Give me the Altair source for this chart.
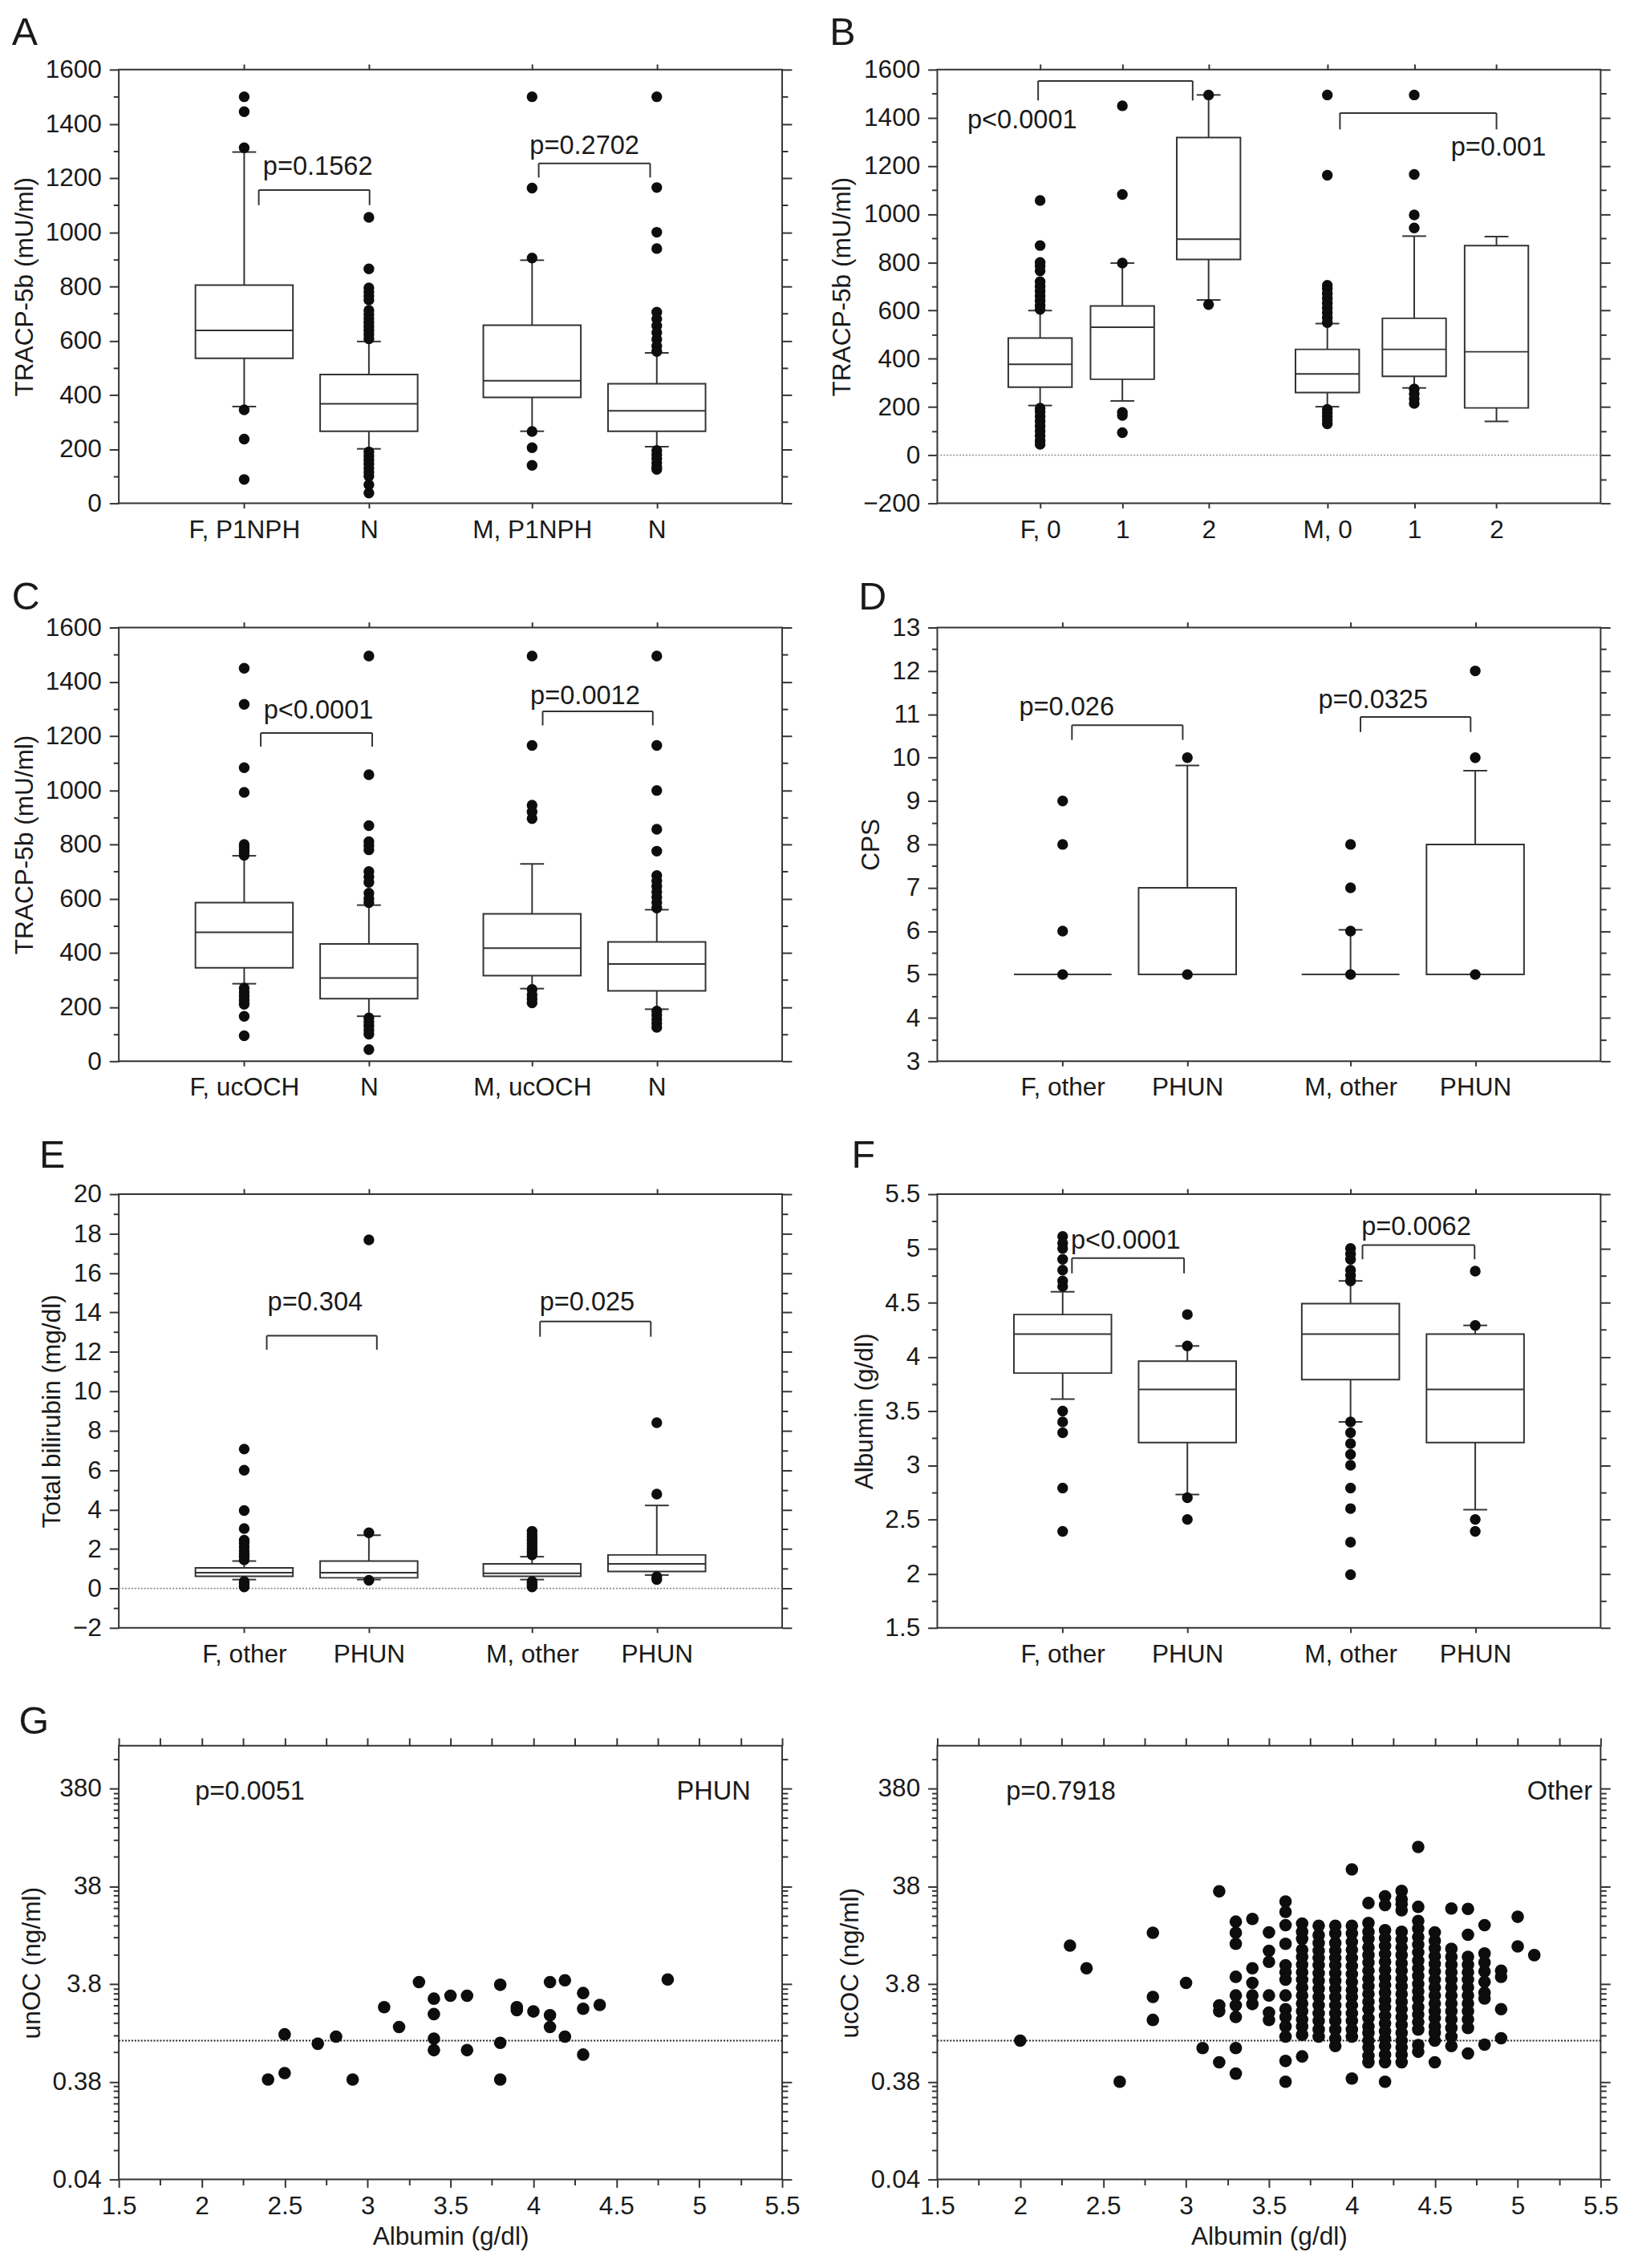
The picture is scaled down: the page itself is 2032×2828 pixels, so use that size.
import altair as alt
import pandas as pd

FONT = "Liberation Sans"
INK = "#333333"
TXT = "#1a1a1a"
DOT = "#0d0d0d"

# ---------------- Panel A ----------------
A_labels = ["F, P1NPH", "N", "M, P1NPH", "N"]
A_q1 = [535, 266, 391, 266]
A_med = [638, 367, 452, 341]
A_q3 = [805, 475, 657, 441]
A_lo = [357, 201, 266, 209]
A_hi = [1296, 597, 897, 555]
A_out = [
    [1500, 1445, 1312, 345, 237, 88],
    [1055, 865, 795, 780, 765, 750, 712, 697, 682, 667, 652, 637, 622, 607,
     190, 175, 160, 145, 130, 115, 100, 68, 38],
    [1500, 1163, 905, 265, 205, 140],
    [1500, 1165, 1000, 940, 705, 680, 655, 630, 605, 580, 560,
     195, 180, 165, 150, 135, 125],
]
A_p = ["p=0.1562", "p=0.2702"]
A_brx = [(21.1, 37.8), (63.3, 80.1)]
A_bry = [(1156, 1100), (1254, 1202)]
A_ptx = [30.0, 70.2]
A_pty = [1212, 1290]

# ---------------- Panel B ----------------
B_labels = ["F, 0", "1", "2", "M, 0", "1", "2"]
B_q1 = [282, 315, 812, 260, 327, 196]
B_med = [377, 531, 896, 337, 439, 429]
B_q3 = [486, 619, 1318, 439, 568, 870]
B_lo = [206, 225, 644, 201, 279, 140]
B_hi = [600, 797, 1495, 546, 909, 907]
B_out = [
    [1057, 870, 800, 785, 765, 720, 700, 680, 660, 640, 620, 605,
     195, 180, 160, 140, 120, 100, 80, 60, 45],
    [1450, 1082, 797, 177, 165, 93],
    [1495, 625],
    [1495, 1162, 705, 690, 670, 650, 630, 610, 590, 570, 550,
     190, 175, 160, 145, 130],
    [1495, 1165, 997, 943, 275, 255, 235, 215],
    [],
]
B_p = ["p<0.0001", "p=0.001"]
B_brx = [(15.2, 38.5), (60.7, 84.3)]
B_bry = [(1553, 1472), (1420, 1352)]
B_ptx = [12.8, 84.6]
B_pty = [1358, 1242]

# ---------------- Panel C ----------------
C_labels = ["F, ucOCH", "N", "M, ucOCH", "N"]
C_q1 = [345, 231, 316, 260]
C_med = [476, 307, 417, 359]
C_q3 = [585, 433, 544, 440]
C_lo = [286, 166, 268, 192]
C_hi = [758, 576, 728, 559]
C_out = [
    [1450, 1317, 1083, 992, 800, 790, 780, 770, 760,
     270, 255, 240, 225, 210, 166, 94],
    [1495, 1057, 869, 810, 795, 780, 700, 680, 660, 620, 600, 585,
     160, 145, 130, 115, 100, 43],
    [1495, 1165, 945, 920, 895, 265, 245, 230, 215],
    [1495, 1165, 999, 856, 775, 685, 665, 645, 625, 605, 585, 565,
     185, 170, 155, 140, 125],
]
C_p = ["p<0.0001", "p=0.0012"]
C_brx = [(21.4, 38.2), (63.9, 80.5)]
C_bry = [(1211, 1161), (1291, 1239)]
C_ptx = [30.1, 70.3]
C_pty = [1265, 1317]

# ---------------- Panel D ----------------
D_labels = ["F, other", "PHUN", "M, other", "PHUN"]
D_q1 = [5, 5, 5, 5]
D_med = [5, 5, 5, 5]
D_q3 = [5, 7, 5, 8]
D_lo = [5, 5, 5, 5]
D_hi = [5, 9.82, 6.03, 9.7]
D_out = [[9, 8, 6, 5], [10, 5], [8, 7, 6, 5], [12, 10, 5]]
D_p = ["p=0.026", "p=0.0325"]
D_brx = [(20.3, 37.0), (63.8, 80.4)]
D_bry = [(10.75, 10.41), (10.94, 10.59)]
D_ptx = [19.5, 65.7]
D_pty = [10.98, 11.14]

# ---------------- Panel E ----------------
E_labels = ["F, other", "PHUN", "M, other", "PHUN"]
E_q1 = [0.62, 0.54, 0.62, 0.86]
E_med = [0.80, 0.80, 0.77, 1.25]
E_q3 = [1.04, 1.39, 1.25, 1.70]
E_lo = [0.45, 0.45, 0.45, 0.68]
E_hi = [1.39, 2.70, 1.61, 4.21]
E_out = [
    [7.07, 6.0, 3.95, 3.04, 2.45, 2.3, 2.1, 1.9, 1.75, 1.6, 1.45,
     0.35, 0.25, 0.15, 0.08],
    [17.68, 2.82, 0.41],
    [2.9, 2.75, 2.6, 2.45, 2.3, 2.15, 2.0, 1.85, 1.7, 0.35, 0.25, 0.15, 0.08],
    [8.41, 4.79, 0.6, 0.45],
]
E_p = ["p=0.304", "p=0.025"]
E_brx = [(22.3, 38.9), (63.5, 80.2)]
E_bry = [(12.82, 12.11), (13.54, 12.77)]
E_ptx = [29.6, 70.6]
E_pty = [14.1, 14.1]

# ---------------- Panel F ----------------
F_labels = ["F, other", "PHUN", "M, other", "PHUN"]
F_q1 = [3.85, 3.21, 3.79, 3.21]
F_med = [4.21, 3.70, 4.21, 3.70]
F_q3 = [4.39, 3.96, 4.49, 4.21]
F_lo = [3.61, 2.73, 3.40, 2.59]
F_hi = [4.60, 4.10, 4.70, 4.29]
F_out = [
    [5.11, 5.05, 5.0, 4.9, 4.8, 4.7, 4.65, 3.5, 3.4, 3.3, 2.79, 2.39],
    [4.39, 4.1, 2.7, 2.5],
    [5.0, 4.95, 4.9, 4.8, 4.75, 4.7, 3.4, 3.3, 3.2, 3.1, 3.0, 2.79, 2.6, 2.29, 1.99],
    [4.79, 4.29, 2.5, 2.39],
]
F_p = ["p<0.0001", "p=0.0062"]
F_brx = [(20.3, 37.2), (64.1, 81.0)]
F_bry = [(4.91, 4.77), (5.03, 4.90)]
F_ptx = [28.4, 72.2]
F_pty = [5.0, 5.12]

# ---------------- Panel G (left, PHUN) ----------------
GL_alb = [2.40, 2.50, 2.50, 2.70, 2.81, 2.91, 3.10, 3.19, 3.31, 3.40,
          3.40, 3.40, 3.40, 3.50, 3.60, 3.60, 3.80, 3.80, 3.80, 3.90,
          3.90, 4.00, 4.10, 4.10, 4.10, 4.19, 4.19, 4.30, 4.30, 4.30,
          4.40, 4.81]
GL_oc = [0.40, 1.16, 0.465, 0.93, 1.10, 0.40, 2.20, 1.38, 3.97, 2.69,
         1.87, 1.05, 0.80, 2.88, 2.88, 0.80, 3.73, 0.95, 0.40, 2.20,
         2.05, 1.99, 3.97, 1.82, 1.38, 4.15, 1.10, 3.07, 2.12, 0.72,
         2.32, 4.22]

# ---------------- Panel G (right, Other) ----------------
GR_alb = [2.0, 2.3, 2.4, 2.6, 2.8, 3.0, 3.1, 3.2, 3.3, 3.4, 3.5, 3.6, 3.7,
          3.8, 3.9, 4.0, 4.1, 4.2, 4.3, 4.4, 4.5, 4.6, 4.7, 4.8, 4.9, 5.0, 5.1]
GR_oc = [
    [1.0],
    [9.4],
    [5.5],
    [0.38],
    [12.7, 2.8, 1.63],
    [3.9],
    [0.84],
    [33.7, 2.3, 2.0, 0.6],
    [16.5, 12.7, 9.8, 4.5, 2.9, 2.3, 1.75, 0.84, 0.46],
    [17.6, 5.5, 3.9, 2.9, 2.37],
    [12.8, 8.3, 6.4, 2.9, 1.94, 1.63],
    [26.5, 20.8, 15.2, 9.8, 5.9, 5.0, 4.2, 2.9, 2.1, 1.75, 1.4, 1.1, 0.62, 0.38],
    [15.8, 13.0, 11.0, 8.5, 7.2, 6.0, 5.0, 4.2, 3.5, 2.9, 2.4, 2.0, 1.65, 1.4, 1.15, 0.69],
    [15.0, 12.0, 10.0, 8.3, 7.0, 5.9, 4.9, 4.1, 3.4, 2.8, 2.3, 1.9, 1.6, 1.3, 1.1],
    [15.0, 12.5, 10.0, 8.3, 7.0, 5.9, 4.9, 4.1, 3.4, 2.8, 2.3, 1.9, 1.6, 1.3, 1.05, 0.88],
    [56.5, 15.0, 12.5, 10.2, 8.5, 7.0, 5.8, 4.8, 4.0, 3.3, 2.8, 2.3, 1.9, 1.6, 1.3, 1.1, 0.41],
    [25.6, 16.0, 13.0, 11.0, 9.0, 7.5, 6.3, 5.2, 4.3, 3.6, 3.0, 2.5, 2.1, 1.7, 1.4, 1.2,
     1.0, 0.85, 0.7, 0.6],
    [30.0, 24.4, 13.5, 11.2, 9.3, 7.7, 6.4, 5.3, 4.4, 3.7, 3.1, 2.6, 2.2, 1.8, 1.5, 1.25,
     1.05, 0.88, 0.72, 0.6, 0.38],
    [34.0, 28.0, 25.0, 21.6, 13.0, 10.8, 9.0, 7.5, 6.2, 5.2, 4.3, 3.6, 3.0, 2.5, 2.1, 1.75,
     1.45, 1.2, 1.0, 0.85, 0.72, 0.6],
    [96.0, 23.4, 16.8, 14.0, 11.5, 9.6, 8.0, 6.6, 5.5, 4.6, 3.8, 3.2, 2.7, 2.2, 1.85, 1.55,
     1.3, 0.9, 0.77],
    [12.8, 10.5, 8.8, 7.3, 6.1, 5.1, 4.2, 3.5, 2.9, 2.4, 2.0, 1.7, 1.4, 1.2, 1.0, 0.6],
    [22.5, 8.7, 7.2, 6.0, 5.0, 4.2, 3.5, 2.9, 2.4, 2.0, 1.65, 1.35, 1.1, 0.88],
    [22.3, 12.1, 7.2, 6.0, 5.0, 4.2, 3.5, 2.9, 2.4, 2.0, 1.65, 1.35, 0.74],
    [15.2, 7.8, 6.3, 5.1, 4.0, 3.1, 2.7, 0.91],
    [5.2, 4.5, 2.1, 1.06],
    [18.5, 9.2],
    [7.5],
]

# category positions along a 0..100 horizontal scale
X4 = [18.9, 37.7, 62.3, 81.1]
X6 = [15.5, 27.9, 40.9, 58.8, 71.9, 84.3]

W, H = 838, 548
CAP_HW = 1.8
LBL = 32
PTXT = 33


def cat_expr(pos, labels):
    expr = f"'{labels[-1]}'"
    for i in range(len(pos) - 2, -1, -1):
        mid = (pos[i] + pos[i + 1]) / 2
        expr = f"datum.value < {mid} ? '{labels[i]}' : ({expr})"
    return expr


def axis_layers(xs, ys, xdom, ydom, xaxes, yaxes):
    d = pd.DataFrame({"x": list(xdom), "y": list(ydom)})
    out = []
    for xa, ya in zip(xaxes, yaxes):
        out.append(alt.Chart(d).mark_point(opacity=0, size=1).encode(
            x=alt.X("x:Q", scale=xs, axis=xa),
            y=alt.Y("y:Q", scale=ys, axis=ya)))
    return out


def y_axes(ymaj, ymin, yfmt, ytitle, labelexpr=None):
    kw = dict(orient="left", values=ymaj, tickSize=12, labelPadding=10,
              title=ytitle, titlePadding=9)
    if labelexpr:
        kw["labelExpr"] = labelexpr
    else:
        kw["format"] = yfmt
    return [
        alt.Axis(**kw),
        alt.Axis(orient="left", values=ymin, labels=False, tickSize=7, title=None),
        alt.Axis(orient="right", values=ymaj, labels=False, tickSize=12, title=None),
        alt.Axis(orient="right", values=ymin, labels=False, tickSize=7, title=None),
    ]


def letter_title(letter, offset):
    return alt.TitleParams(letter, anchor="start", frame="bounds", fontSize=49,
                           fontWeight="normal", font=FONT, color=TXT,
                           baseline="alphabetic", offset=offset)


def box_panel(letter, toff, labels, pos, hw, q1, med, q3, lo, hi, outs, ptxt, brx, bry,
              ptx, pty, ydom, ymaj, ymin, yfmt, ytitle, zero=False):
    xs = alt.Scale(domain=[0, 100], nice=False, zero=False)
    ys = alt.Scale(domain=ydom, nice=False, zero=False)

    boxes = pd.DataFrame({"pos": pos, "q1": q1, "med": med, "q3": q3})
    boxes["l"] = boxes["pos"] - hw
    boxes["r"] = boxes["pos"] + hw

    segs = []
    for p, a, m, b, lw, hg in zip(pos, q1, med, q3, lo, hi):
        if hg > b:
            segs.append((p, b, p, hg))
            segs.append((p - CAP_HW, hg, p + CAP_HW, hg))
        if lw < a:
            segs.append((p, lw, p, a))
            segs.append((p - CAP_HW, lw, p + CAP_HW, lw))
    whisk = pd.DataFrame(segs, columns=["x1", "y1", "x2", "y2"])

    brk = []
    for (x1, x2), (yt, yl) in zip(brx, bry):
        brk += [(x1, yl, x1, yt), (x1, yt, x2, yt), (x2, yt, x2, yl)]
    brdf = pd.DataFrame(brk, columns=["x1", "y1", "x2", "y2"])

    outdf = pd.DataFrame([{"pos": p, "v": v} for p, vs in zip(pos, outs) for v in vs])
    ptdf = pd.DataFrame({"x": ptx, "y": pty, "t": ptxt})

    def seg_layer(df, width=2):
        return alt.Chart(df).mark_rule(color=INK, strokeWidth=width).encode(
            x=alt.X("x1:Q", scale=xs, axis=None),
            y=alt.Y("y1:Q", scale=ys, axis=None),
            x2="x2:Q", y2="y2:Q")

    layers = []
    if zero:
        layers.append(alt.Chart(pd.DataFrame({"z": [0]})).mark_rule(
            color="#8a8a8a", strokeDash=[2, 2], strokeWidth=1.6).encode(
            y=alt.Y("z:Q", scale=ys, axis=None)))
    layers.append(seg_layer(whisk))
    layers.append(alt.Chart(boxes).mark_rect(fill="white", stroke=INK, strokeWidth=2).encode(
        x=alt.X("l:Q", scale=xs, axis=None), x2="r:Q",
        y=alt.Y("q1:Q", scale=ys, axis=None), y2="q3:Q"))
    layers.append(alt.Chart(boxes).mark_rule(color=INK, strokeWidth=2).encode(
        x=alt.X("l:Q", scale=xs, axis=None), x2="r:Q",
        y=alt.Y("med:Q", scale=ys, axis=None)))
    layers.append(alt.Chart(outdf).mark_circle(size=185, color=DOT, opacity=1).encode(
        x=alt.X("pos:Q", scale=xs, axis=None),
        y=alt.Y("v:Q", scale=ys, axis=None)))
    layers.append(seg_layer(brdf))
    layers.append(alt.Chart(ptdf).mark_text(font=FONT, fontSize=PTXT, color=TXT,
                                            align="center", baseline="alphabetic").encode(
        x=alt.X("x:Q", scale=xs, axis=None),
        y=alt.Y("y:Q", scale=ys, axis=None),
        text="t:N"))

    xaxes = [
        alt.Axis(orient="bottom", values=pos, labelExpr=cat_expr(pos, labels),
                 tickSize=6, labelPadding=12, title=None, labelAngle=0),
        alt.Axis(orient="top", values=pos, labels=False, tickSize=7, title=None),
        None, None,
    ]
    layers += axis_layers(xs, ys, [0, 100], ydom, xaxes, y_axes(ymaj, ymin, yfmt, ytitle))

    return alt.layer(*layers).properties(
        width=W, height=H, title=letter_title(letter, toff),
    ).resolve_axis(x="independent", y="independent")


def scatter_panel(letter, alb, oc, ptxt, ptx, tag, tagx, ytitle):
    xs = alt.Scale(domain=[1.5, 5.5], nice=False, zero=False)
    ys = alt.Scale(type="log", domain=[0.038, 1040], nice=False)
    pts = pd.DataFrame({"a": alb, "o": oc})
    txt = pd.DataFrame({"x": [ptx], "y": [293], "t": [ptxt]})
    tg = pd.DataFrame({"x": [tagx], "y": [293], "t": [tag]})

    layers = [
        alt.Chart(pd.DataFrame({"z": [1.0]})).mark_rule(
            color="#222", strokeDash=[2, 2], strokeWidth=2).encode(
            y=alt.Y("z:Q", scale=ys, axis=None)),
        alt.Chart(pts).mark_circle(size=250, color=DOT, opacity=1).encode(
            x=alt.X("a:Q", scale=xs, axis=None),
            y=alt.Y("o:Q", scale=ys, axis=None)),
        alt.Chart(txt).mark_text(font=FONT, fontSize=PTXT, color=TXT, align="left",
                                 baseline="alphabetic").encode(
            x=alt.X("x:Q", scale=xs, axis=None), y=alt.Y("y:Q", scale=ys, axis=None),
            text="t:N"),
        alt.Chart(tg).mark_text(font=FONT, fontSize=PTXT, color=TXT, align="right",
                                baseline="alphabetic").encode(
            x=alt.X("x:Q", scale=xs, axis=None), y=alt.Y("y:Q", scale=ys, axis=None),
            text="t:N"),
    ]
    xmaj = [1.5, 2.0, 2.5, 3.0, 3.5, 4.0, 4.5, 5.0, 5.5]
    xmin = [1.75, 2.25, 2.75, 3.25, 3.75, 4.25, 4.75, 5.25]
    xall = sorted(xmaj + xmin)
    bases = [0.038, 0.38, 3.8, 38, 380]
    ymin = [b * k for b in bases for k in range(2, 10) if b * k < 1040]
    lab = ("datum.value < 0.1 ? '0.04' : datum.value < 1 ? '0.38' : "
           "datum.value < 10 ? '3.8' : datum.value < 100 ? '38' : '380'")
    xaxes = [
        alt.Axis(orient="bottom", values=xmaj, format=".1~f", tickSize=10, labelPadding=8,
                 title="Albumin (g/dl)", titlePadding=8),
        alt.Axis(orient="top", values=xall, labels=False, tickSize=10, title=None),
        alt.Axis(orient="bottom", values=xmin, labels=False, tickSize=7, title=None),
        None,
    ]
    layers += axis_layers(xs, ys, [1.5, 5.5], [0.038, 1040], xaxes,
                          y_axes(bases, ymin, None, ytitle, labelexpr=lab))
    props = dict(width=W, height=H)
    if letter:
        props["title"] = letter_title(letter, -45)
    return alt.layer(*layers).properties(**props).resolve_axis(x="independent", y="independent")


ymaj_tr = list(range(0, 1601, 200))
ymin_tr = list(range(100, 1600, 200))

pA = box_panel("A", -34, A_labels, X4, 7.35, A_q1, A_med, A_q3, A_lo, A_hi, A_out, A_p,
               A_brx, A_bry, A_ptx, A_pty, [0, 1600], ymaj_tr, ymin_tr, "d",
               "TRACP-5b (mU/ml)")
pB = box_panel("B", -34, B_labels, X6, 4.8, B_q1, B_med, B_q3, B_lo, B_hi, B_out, B_p,
               B_brx, B_bry, B_ptx, B_pty, [-200, 1600], list(range(-200, 1601, 200)),
               list(range(-100, 1600, 200)), "d", "TRACP-5b (mU/ml)", zero=True)
pC = box_panel("C", -42, C_labels, X4, 7.35, C_q1, C_med, C_q3, C_lo, C_hi, C_out, C_p,
               C_brx, C_bry, C_ptx, C_pty, [0, 1600], ymaj_tr, ymin_tr, "d",
               "TRACP-5b (mU/ml)")
pD = box_panel("D", -42, D_labels, X4, 7.35, D_q1, D_med, D_q3, D_lo, D_hi, D_out, D_p,
               D_brx, D_bry, D_ptx, D_pty, [3, 13], list(range(3, 14)),
               [3.5 + i for i in range(10)], "d", "CPS")
pE = box_panel("E", -31, E_labels, X4, 7.35, E_q1, E_med, E_q3, E_lo, E_hi, E_out, E_p,
               E_brx, E_bry, E_ptx, E_pty, [-2, 20], list(range(-2, 21, 2)),
               list(range(-1, 20, 2)), "d", "Total bilirubin (mg/dl)", zero=True)
pF = box_panel("F", -31, F_labels, X4, 7.35, F_q1, F_med, F_q3, F_lo, F_hi, F_out, F_p,
               F_brx, F_bry, F_ptx, F_pty, [1.5, 5.5], [1.5 + 0.5 * i for i in range(9)],
               [1.75 + 0.5 * i for i in range(8)], ".1~f", "Albumin (g/dl)")

gr_a = [a for a, vs in zip(GR_alb, GR_oc) for _ in vs]
gr_o = [v for vs in GR_oc for v in vs]
pGL = scatter_panel("G", GL_alb, GL_oc, "p=0.0051", 1.96, "PHUN", 5.31, "unOC (ng/ml)")
pGR = scatter_panel(None, gr_a, gr_o, "p=0.7918", 1.915, "Other", 5.45, "ucOC (ng/ml)")

chart = alt.concat(pA, pB, pC, pD, pE, pF, pGL, pGR, columns=2,
                   spacing={"row": 44, "column": 34}).configure_view(
    stroke=INK, strokeWidth=2
).configure_axis(
    labelFont=FONT, labelFontSize=LBL, labelColor=TXT,
    titleFont=FONT, titleFontSize=32, titleFontWeight="normal", titleColor=TXT,
    tickColor=INK, tickWidth=2, domain=False, grid=False, labelFlush=False,
).properties(background="white", padding={"left": 5, "top": -10, "right": 5, "bottom": 5})

chart.save("out.html", embed_options={"renderer": "svg", "actions": False})
